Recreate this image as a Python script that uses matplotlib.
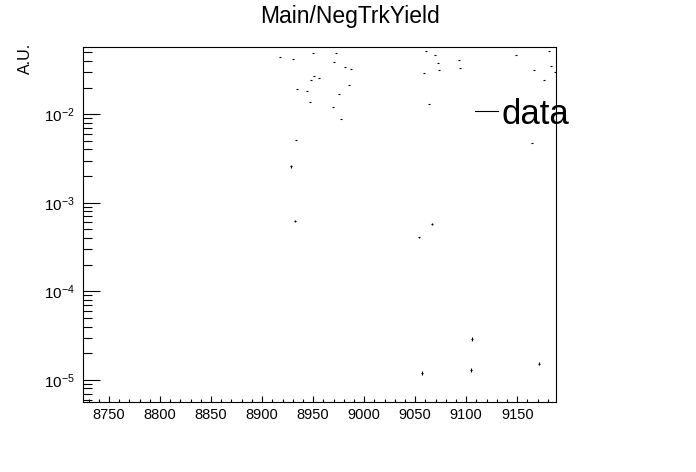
import numpy as np
import matplotlib
matplotlib.use('Agg')
import matplotlib.pyplot as plt
from matplotlib.ticker import MultipleLocator, LogLocator, NullFormatter
from matplotlib.lines import Line2D

plt.rcParams['font.family'] = ['Liberation Sans', 'DejaVu Sans']
plt.rcParams['mathtext.fontset'] = 'custom'
plt.rcParams['mathtext.rm'] = 'Liberation Sans'
plt.rcParams['mathtext.it'] = 'Liberation Sans:italic'
plt.rcParams['mathtext.bf'] = 'Liberation Sans:bold'

## values (bin centre, yield)
run = [8917.6, 8930.1, 8949.7, 8972.3, 8970.3, 8981.4, 8951.0, 8955.9, 8948.3,
       8985.3, 8934.0, 8943.8, 8975.2, 8946.8, 8969.3, 8977.2, 8987.3, 8933.0,
       8928.0, 8932.4, 9060.5, 9069.6, 9072.5, 9092.6, 9094.1, 9073.5, 9058.8,
       9063.7, 9149.0, 9181.4, 9183.3, 9166.7, 9176.5, 9187.5, 9164.2, 9053.7,
       9066.4, 9105.6, 9056.6, 9104.5, 9171.3]
yld = [0.0448, 0.0425, 0.0497, 0.0497, 0.0393, 0.0345, 0.0273, 0.0259, 0.0244,
       0.0216, 0.0191, 0.0185, 0.0171, 0.0139, 0.0122, 0.00872, 0.0324, 0.00505,
       0.00258, 6.27e-4, 0.0514, 0.0471, 0.0383, 0.0412, 0.0331, 0.0314, 0.0295,
       0.0130, 0.0462, 0.0520, 0.0347, 0.0313, 0.0242, 0.0298, 0.00477, 4.06e-4,
       5.74e-4, 2.92e-5, 1.21e-5, 1.30e-5, 1.53e-5]
yld_err = [0, 0, 0, 0, 0, 0, 0, 0, 0,
           0, 0, 0, 0, 0, 0, 0, 0, 0,
           1.2e-4, 1.5e-5, 0, 0, 0, 0, 0, 0, 0,
           0, 0, 0, 0, 0, 0, 0, 0, 1.0e-5,
           1.4e-5, 1.5e-6, 6e-7, 6e-7, 7e-7]
bin_halfwidth = 1.0

XMIN, XMAX = 8724.5, 9188.0
YMIN, YMAX = 5.63e-6, 0.0574

fig = plt.figure(figsize=(6.96, 4.72), dpi=100)
ax = fig.add_axes([83/696, 1-402/472, (556-83)/696, (402-47)/472])

ax.errorbar(run, yld, xerr=bin_halfwidth, yerr=yld_err, fmt='none',
            ecolor='black', elinewidth=0.8, capsize=0)

ax.set_yscale('log')
ax.set_xlim(XMIN, XMAX)
ax.set_ylim(YMIN, YMAX)

### ticks ROOT style
ax.xaxis.set_major_locator(MultipleLocator(50))
ax.xaxis.set_minor_locator(MultipleLocator(10))
ax.yaxis.set_major_locator(LogLocator(base=10, numticks=20))
ax.yaxis.set_minor_locator(LogLocator(base=10, subs=np.arange(2, 10), numticks=20))
ax.yaxis.set_minor_formatter(NullFormatter())
ax.tick_params(axis='both', which='both', direction='in', top=False, right=False,
               width=0.8)
ax.tick_params(axis='x', which='major', length=4.5, pad=4, labelsize=10.5)
ax.tick_params(axis='x', which='minor', length=2.2)
ax.tick_params(axis='y', which='major', length=12, pad=6, labelsize=11)
ax.tick_params(axis='y', which='minor', length=6.5)
for sp in ax.spines.values():
    sp.set_linewidth(0.8)

ax.set_ylabel('A.U.', fontsize=11.5, loc='top')
ax.yaxis.set_label_coords(-0.105, 1.012)
fig.text(0.503, 1-17/472, 'Main/NegTrkYield', fontsize=16.5, ha='center', va='center')

handle = Line2D([], [], color='black', lw=0.8)
ax.legend([handle], ['data'], loc='center left',
          bbox_to_anchor=(475/696, 1-114/472), bbox_transform=fig.transFigure,
          frameon=False, fontsize=25, handlelength=0.65, handletextpad=0.12,
          borderpad=0, borderaxespad=0)

fig.savefig('out.png', dpi=100)
